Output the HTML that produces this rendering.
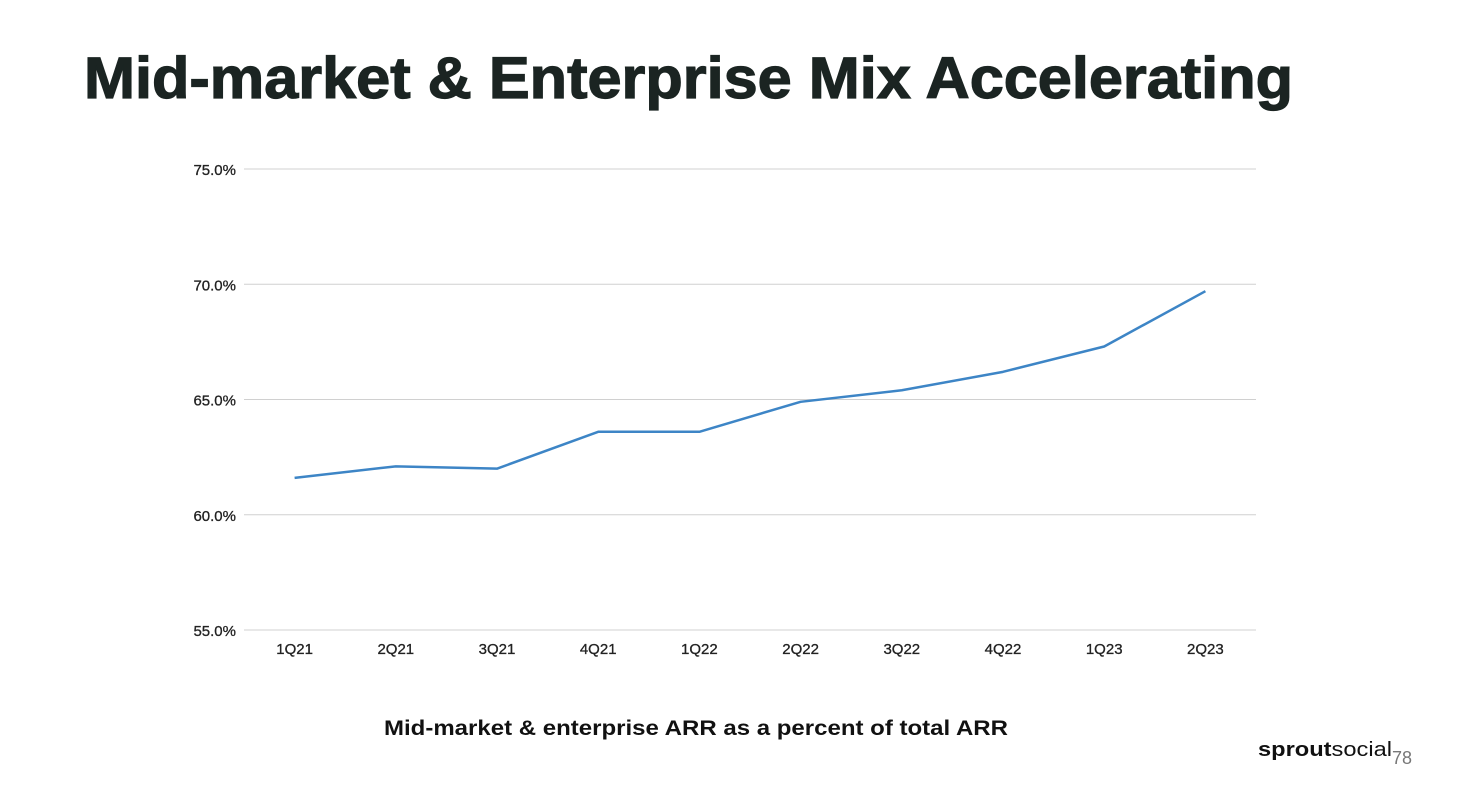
<!DOCTYPE html>
<html><head><meta charset="utf-8"><style>
html,body{margin:0;padding:0;background:#fff;}
body{width:1458px;height:792px;overflow:hidden;font-family:"Liberation Sans",sans-serif;}
</style></head><body>
<svg width="1458" height="792" viewBox="0 0 1458 792" xmlns="http://www.w3.org/2000/svg">
<text x="84" y="98" font-size="58" font-weight="bold" fill="#1b2422" stroke="#1b2422" stroke-width="1.2" textLength="1209" lengthAdjust="spacingAndGlyphs">Mid-market &amp; Enterprise Mix Accelerating</text>
<g id="chart"></g>
<text x="384" y="735" font-size="21" font-weight="bold" fill="#111" textLength="624" lengthAdjust="spacingAndGlyphs">Mid-market &amp; enterprise ARR as a percent of total ARR</text>
<text x="1258" y="756" font-size="20" fill="#111" textLength="134" lengthAdjust="spacingAndGlyphs"><tspan font-weight="bold">sprout</tspan>social</text>
<text x="1392" y="764" font-size="18" fill="#777">78</text>
</svg>
<script>
const categories=["1Q21","2Q21","3Q21","4Q21","1Q22","2Q22","3Q22","4Q22","1Q23","2Q23"];
const values=[61.6,62.1,62.0,63.6,63.6,64.9,65.4,66.2,67.3,69.7];
const yTicks=[55,60,65,70,75];
const tickLabels=["55.0%","60.0%","65.0%","70.0%","75.0%"];
const NS="http://www.w3.org/2000/svg";
const g=document.getElementById("chart");
const x0=244,x1=1256,yTop=169,yBot=630,yMin=55,yMax=75;
const step=(x1-x0)/categories.length;
const xs=i=>x0+step*(i+0.5);
const ys=v=>yBot-(v-yMin)/(yMax-yMin)*(yBot-yTop);
function mk(t,a){const e=document.createElementNS(NS,t);for(const k in a)e.setAttribute(k,a[k]);g.appendChild(e);return e;}
yTicks.forEach((v,i)=>{
 const l=mk("line",{x1:x0,x2:x1,y1:ys(v),y2:ys(v),stroke:"#d0d0d0","stroke-width":1});
 
 
 const t=mk("text",{x:236,y:ys(v)+6,"font-size":15,fill:"#222","text-anchor":"end",stroke:"#222","stroke-width":0.3});
 t.textContent=tickLabels[i];
 
 
});
categories.forEach((c,i)=>{
 const t=mk("text",{x:xs(i),y:654,"font-size":15,fill:"#222","text-anchor":"middle",stroke:"#222","stroke-width":0.3});
 t.textContent=c;
 
 
});
const p=mk("polyline",{points:values.map((v,i)=>xs(i)+","+ys(v)).join(" "),fill:"none",stroke:"#3d85c6","stroke-width":2.5,"stroke-linejoin":"round"});


</script>
</body></html>
